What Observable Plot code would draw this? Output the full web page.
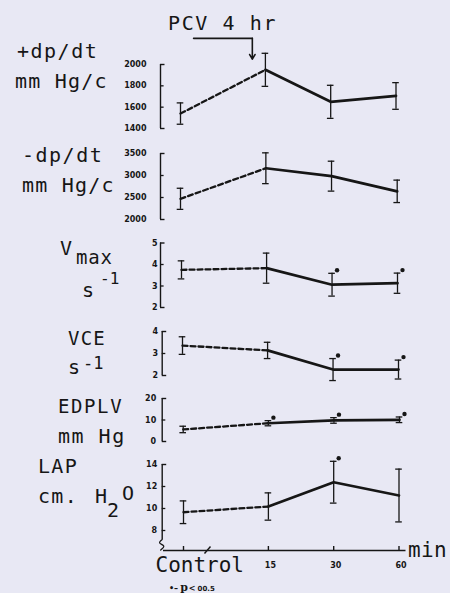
<!DOCTYPE html>
<html>
<head>
<meta charset="utf-8">
<script src="https://cdn.jsdelivr.net/npm/d3@7"></script>
<script src="https://cdn.jsdelivr.net/npm/@observablehq/plot@0.6"></script>
<style>
  html, body { margin: 0; padding: 0; background: #e8e8f4; }
  #chart { position: relative; width: 450px; height: 593px; overflow: hidden; background: #e8e8f4; }
  #chart svg { position: absolute; left: 0; top: 0; }
</style>
</head>
<body>
<div id="chart"></div>
<script>
// ---------------- data ----------------
const times = ["Control", "15", "30", "60"];

const plusDpDt   = [1540, 1950, 1650, 1705];
const plusDpDtSE = [100, 155, 155, 125];
const plusDpDtSig = [false, false, false, false];
const plusDpDtTicks = [1400, 1600, 1800, 2000];

const minusDpDt   = [2470, 3165, 2985, 2640];
const minusDpDtSE = [240, 350, 340, 255];
const minusDpDtSig = [false, false, false, false];
const minusDpDtTicks = [2000, 2500, 3000, 3500];

const vmax   = [3.75, 3.83, 3.06, 3.13];
const vmaxSE = [0.42, 0.70, 0.53, 0.47];
const vmaxSig = [false, false, true, true];
const vmaxTicks = [2, 3, 4, 5];

const vce   = [3.36, 3.14, 2.27, 2.27];
const vceSE = [0.40, 0.37, 0.50, 0.43];
const vceSig = [false, false, true, true];
const vceTicks = [2, 3, 4];

const edplv   = [5.6, 8.5, 9.8, 10.1];
const edplvSE = [1.5, 1.2, 1.3, 1.3];
const edplvSig = [false, true, true, true];
const edplvTicks = [0, 10, 20];

const lap   = [9.66, 10.18, 12.39, 11.18];
const lapSE = [1.03, 1.24, 1.90, 2.40];
const lapSig = [false, false, true, false];
const lapTicks = [8, 10, 12, 14];

// ---------------- layout ----------------
const W = 450, H = 593;
const ink = "#161616";
const controlGap = 1.3;             // slots between Control and 15 min (broken axis)
const slotOf = i => i === 0 ? -controlGap : i - 1;

const panels = [
  {values: plusDpDt,  se: plusDpDtSE,  sig: plusDpDtSig,  ticks: plusDpDtTicks,  yRange: [128, 64],    x0: 180,   x1: 395.5, axisPx: 160,   labelDx: -14},
  {values: minusDpDt, se: minusDpDtSE, sig: minusDpDtSig, ticks: minusDpDtTicks, yRange: [219, 153],   x0: 180,   x1: 396.7, axisPx: 160,   labelDx: -14},
  {values: vmax,      se: vmaxSE,      sig: vmaxSig,      ticks: vmaxTicks,      yRange: [307, 242.5], x0: 181,   x1: 397,   axisPx: 160,   labelDx: -3},
  {values: vce,       se: vceSE,       sig: vceSig,       ticks: vceTicks,       yRange: [375, 331],   x0: 182,   x1: 398,   axisPx: 161.7, labelDx: -4},
  {values: edplv,     se: edplvSE,     sig: edplvSig,     ticks: edplvTicks,     yRange: [441, 398],   x0: 182.7, x1: 399,   axisPx: 161.7, labelDx: -6},
  {values: lap,       se: lapSE,       sig: lapSig,       ticks: lapTicks,       yRange: [530, 464],   x0: 183,   x1: 398.5, axisPx: 161.7, labelDx: -5, isLast: true}
];

const chart = document.getElementById("chart");

panels.forEach((p, k) => {
  const yMin = p.ticks[0], yMax = p.ticks[p.ticks.length - 1];
  const pxPerSlot = (p.x1 - p.x0) / (2 + controlGap);
  const pxPerUnit = (p.yRange[0] - p.yRange[1]) / (yMax - yMin);
  const atPxY = px => yMin + (p.yRange[0] - px) / pxPerUnit;   // pixel row -> data value (axis decoration only)
  const atPxX = px => -controlGap + (px - p.x0) / pxPerSlot;   // pixel column -> slot (axis decoration only)
  const axisSlot = atPxX(p.axisPx);
  const capW = 3.3 / pxPerSlot;
  const bracketLen = 4.5 / pxPerSlot;

  const rows = times.map((t, i) => ({
    t, slot: slotOf(i), v: p.values[i],
    lo: p.values[i] - p.se[i], hi: p.values[i] + p.se[i], sig: p.sig[i]
  }));

  const marks = [];
  // y axis bracket
  const axisBottom = p.isLast ? atPxY(539) : yMin;
  marks.push(Plot.ruleX([axisSlot], {y1: axisBottom, y2: yMax, stroke: ink, strokeWidth: 1.4}));
  const capVals = p.isLast ? [yMax] : [yMin, yMax];
  marks.push(Plot.ruleY(capVals, {x1: axisSlot, x2: axisSlot + bracketLen, stroke: ink, strokeWidth: 1.4}));
  const innerTicks = p.isLast ? p.ticks.slice(0, -1) : p.ticks.slice(1, -1);
  marks.push(Plot.ruleY(innerTicks, {x1: axisSlot, x2: axisSlot + 0.8 * bracketLen, stroke: ink, strokeWidth: 1.3}));
  marks.push(Plot.text(p.ticks, {
    x: axisSlot, y: d => d, text: d => String(d), textAnchor: "end", dx: p.labelDx,
    fontSize: 8, fontWeight: "bold", fontFamily: "DejaVu Sans", fill: ink
  }));

  // error bars
  marks.push(Plot.ruleX(rows, {x: "slot", y1: "lo", y2: "hi", stroke: ink, strokeWidth: 1.3}));
  marks.push(Plot.ruleY(rows, {y: "lo", x1: d => d.slot - capW, x2: d => d.slot + capW, stroke: ink, strokeWidth: 1.3}));
  marks.push(Plot.ruleY(rows, {y: "hi", x1: d => d.slot - capW, x2: d => d.slot + capW, stroke: ink, strokeWidth: 1.3}));

  // mean lines
  marks.push(Plot.line(rows.slice(0, 2), {x: "slot", y: "v", stroke: ink, strokeWidth: 2.3, strokeDasharray: "5,3"}));
  marks.push(Plot.line(rows.slice(1), {x: "slot", y: "v", stroke: ink, strokeWidth: 2.7, strokeLinejoin: "round"}));

  // significance dots
  marks.push(Plot.dot(rows.filter(d => d.sig), {x: "slot", y: "hi", dx: 5, dy: -3, r: 2.2, fill: ink, stroke: "none"}));

  if (k === 0) {
    // PCV 4 hr bracket arrow
    const pcv = [{x: -1.1, y: 2245}, {x: -0.2, y: 2245}];
    marks.push(Plot.line(pcv, {x: "x", y: "y", stroke: ink, strokeWidth: 1.6}));
    marks.push(Plot.arrow([{x: -0.2, y1: 2245, y2: 2050}], {x1: "x", x2: "x", y1: "y1", y2: "y2", stroke: ink, strokeWidth: 1.6, headLength: 5}));
  }

  if (p.isLast) {
    const axisLine = atPxY(550);
    const tickTop = atPxY(546);
    marks.push(Plot.ruleY([axisLine], {x1: atPxX(163), x2: 2 + 7 / pxPerSlot, stroke: ink, strokeWidth: 1.6}));
    marks.push(Plot.ruleX(rows, {x: "slot", y1: axisLine, y2: tickTop, stroke: ink, strokeWidth: 1.4}));
    // axis breaks (decoration)
    const yBreak = [[p.axisPx, 539], [p.axisPx - 2.5, 542.5], [p.axisPx + 1.5, 545.5], [p.axisPx - 1.5, 549.5]]
      .map(([x, y]) => ({x: atPxX(x), y: atPxY(y)}));
    marks.push(Plot.line(yBreak, {x: "x", y: "y", stroke: ink, strokeWidth: 1.3, curve: "natural"}));
    marks.push(Plot.link([{x1: atPxX(204), y1: atPxY(553), x2: atPxX(210), y2: atPxY(546)}],
      {x1: "x1", y1: "y1", x2: "x2", y2: "y2", stroke: ink, strokeWidth: 1.4}));
    // x labels
    marks.push(Plot.text(rows.slice(0, 1), {
      x: "slot", text: "t", frameAnchor: "bottom", lineAnchor: "bottom", dy: -21.5, dx: -28, textAnchor: "start",
      fontSize: 21, fontFamily: "DejaVu Sans Mono", letterSpacing: 0.8, fill: ink
    }));
    marks.push(Plot.text(rows.slice(1), {
      x: "slot", text: "t", frameAnchor: "bottom", lineAnchor: "bottom", dy: -26, dx: 2,
      fontSize: 8, fontWeight: "bold", fontFamily: "DejaVu Sans", fill: ink
    }));
  }

  const svg = Plot.plot({
    width: W, height: H, margin: 0,
    x: {type: "linear", domain: [-controlGap, 2], range: [p.x0, p.x1], axis: null},
    y: {type: "linear", domain: [yMin, yMax], range: p.yRange, axis: null},
    style: {background: "transparent", overflow: "visible"},
    marks
  });
  chart.appendChild(svg);
});

// ---------------- text labels ----------------
const lab = d3.select(chart).append("svg")
  .attr("width", W).attr("height", H)
  .style("font-family", "'DejaVu Sans Mono', monospace")
  .attr("fill", ink);

function t(x, y, s, size = 20, ls = 1.5) {
  return lab.append("text").attr("x", x).attr("y", y).attr("font-size", size)
    .attr("letter-spacing", ls).text(s);
}

t(168, 30, "PCV 4 hr", 20, 1.6);
t(17, 58, "+dp/dt", 20, 1.5);
t(15, 88, "mm Hg/c", 20, 1.2);
t(22, 162, "-dp/dt", 20, 1.5);
t(22, 192, "mm Hg/c", 20, 1.2);
t(60, 255, "V", 20, 0);
t(76, 264, "max", 19, 0.8);
t(100, 284, "-1", 16, 0);
t(82, 297, "s", 20, 0);
t(68, 345, "VCE", 19, 1.2);
t(68, 374, "s", 20, 0);
t(83, 369, "-1", 17, 0);
t(58, 413, "EDPLV", 19, 1.6);
t(58, 443, "mm Hg", 20, 1.5);
t(38, 473, "LAP", 20, 1.3);
t(38, 503, "cm.", 20, 1.3);
t(95, 503, "H", 20, 0);
t(107, 517, "2", 20, 0);
t(122, 500, "O", 20, 0);
t(408, 557, "min", 21, 0.3);

const foot = lab.append("text").attr("x", 169).attr("y", 591).attr("font-family", "DejaVu Sans").attr("font-weight", "bold");
foot.append("tspan").attr("font-size", 8).text("•–");
foot.append("tspan").attr("font-size", 11).attr("font-family", "DejaVu Serif").attr("dx", 2).text("p");
foot.append("tspan").attr("font-size", 8).attr("dx", 1).text("<");
foot.append("tspan").attr("font-size", 7).attr("dx", 2).text("00.5");
</script>
</body>
</html>
